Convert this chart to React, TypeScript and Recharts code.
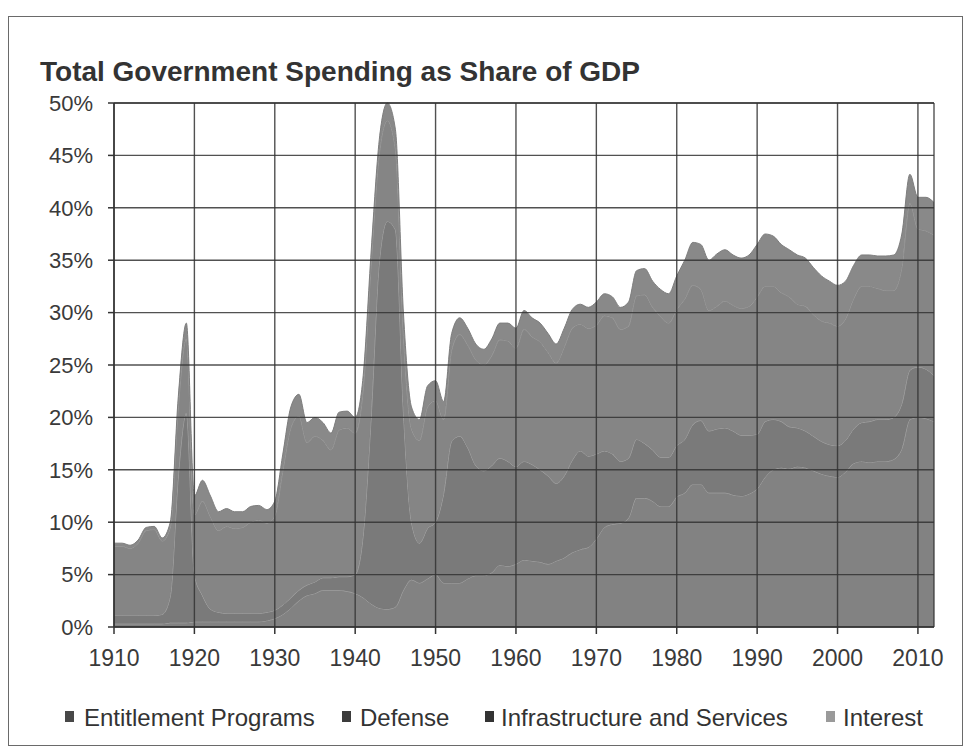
import React from "react";
import { AreaChart, Area, XAxis, YAxis, CartesianGrid } from "recharts";

const years: number[] = [
  1910, 1911, 1912, 1913, 1914, 1915, 1916, 1917, 1918, 1919,
  1920, 1921, 1922, 1923, 1924, 1925, 1926, 1927, 1928, 1929,
  1930, 1931, 1932, 1933, 1934, 1935, 1936, 1937, 1938, 1939,
  1940, 1941, 1942, 1943, 1944, 1945, 1946, 1947, 1948, 1949,
  1950, 1951, 1952, 1953, 1954, 1955, 1956, 1957, 1958, 1959,
  1960, 1961, 1962, 1963, 1964, 1965, 1966, 1967, 1968, 1969,
  1970, 1971, 1972, 1973, 1974, 1975, 1976, 1977, 1978, 1979,
  1980, 1981, 1982, 1983, 1984, 1985, 1986, 1987, 1988, 1989,
  1990, 1991, 1992, 1993, 1994, 1995, 1996, 1997, 1998, 1999,
  2000, 2001, 2002, 2003, 2004, 2005, 2006, 2007, 2008, 2009,
  2010, 2011, 2012,
];

const entitlement: number[] = [
  0.3, 0.3, 0.3, 0.3, 0.3, 0.3, 0.3, 0.4, 0.4, 0.4,
  0.5, 0.5, 0.5, 0.5, 0.5, 0.5, 0.5, 0.5, 0.5, 0.6,
  0.8, 1.2, 1.8, 2.5, 3.0, 3.2, 3.5, 3.5, 3.5, 3.4,
  3.2, 2.8, 2.2, 1.8, 1.7, 1.9, 3.5, 4.5, 4.2, 4.6,
  5.0, 4.2, 4.2, 4.2, 4.6, 4.9, 4.9, 5.2, 5.9, 5.8,
  6.0, 6.4, 6.3, 6.2, 6.0, 6.3, 6.6, 7.1, 7.4, 7.6,
  8.4, 9.5, 9.8, 9.9, 10.4, 12.3, 12.3, 12.0, 11.5, 11.5,
  12.4, 12.8, 13.6, 13.6, 12.8, 12.8, 12.8, 12.6, 12.5, 12.7,
  13.2, 14.3, 15.0, 15.2, 15.1, 15.3, 15.2, 14.9, 14.6, 14.4,
  14.3, 14.8, 15.6, 15.8, 15.7, 15.8, 15.8, 16.0, 17.0, 19.8,
  20.0, 19.9, 19.6,
];

const defense: number[] = [
  0.8, 0.8, 0.8, 0.8, 0.8, 0.8, 0.9, 2.5, 14.0, 20.0,
  4.5, 2.5, 1.2, 0.9, 0.8, 0.8, 0.8, 0.8, 0.8, 0.8,
  0.8, 0.9, 1.0, 1.0, 1.0, 1.1, 1.2, 1.2, 1.3, 1.4,
  1.8, 6.0, 18.0, 33.0, 37.0, 36.0, 17.0, 5.5, 3.8, 4.8,
  5.0, 8.5, 13.5, 14.0, 12.5, 10.5, 10.0, 10.2, 10.2, 10.0,
  9.3, 9.4, 9.2, 8.8, 8.4, 7.4, 7.8, 8.8, 9.4, 8.7,
  8.1, 7.3, 6.7, 5.9, 5.7, 5.6, 5.2, 4.9, 4.7, 4.7,
  4.9, 5.1, 5.7, 6.1, 5.9, 6.1, 6.2, 6.1, 5.8, 5.6,
  5.2, 5.3, 4.8, 4.4, 4.0, 3.7, 3.5, 3.3, 3.1, 3.0,
  3.0, 3.0, 3.3, 3.7, 3.9, 4.0, 4.0, 4.0, 4.3, 4.7,
  4.8, 4.7, 4.4,
];

const infrastructure: number[] = [
  6.6, 6.6, 6.4, 6.9, 8.1, 8.2, 7.0, 6.6, 6.6, 7.1,
  5.7, 9.0, 8.8, 7.8, 8.3, 8.1, 8.2, 8.7, 8.9, 8.5,
  9.0, 12.8, 16.2, 16.6, 13.6, 13.9, 13.1, 12.2, 14.0, 14.2,
  13.5, 13.9, 14.6, 10.3, 9.6, 7.7, 7.3, 8.9, 9.8, 11.6,
  11.6, 7.1, 8.7, 9.7, 9.8, 10.1, 10.1, 10.5, 11.3, 11.5,
  11.3, 12.6, 12.2, 12.2, 11.8, 11.5, 12.3, 12.6, 12.1, 12.2,
  12.3, 12.9, 13.0, 12.6, 12.6, 13.7, 14.2, 13.6, 13.4, 12.8,
  13.0, 13.4, 13.3, 12.5, 11.5, 11.7, 12.1, 12.0, 12.1, 12.3,
  13.1, 12.9, 12.7, 12.3, 12.4, 11.8, 11.9, 11.6, 11.5, 11.6,
  11.4, 11.6, 12.4, 13.0, 12.9, 12.5, 12.3, 12.1, 13.0, 15.9,
  13.2, 13.2, 13.4,
];

const interest: number[] = [
  0.3, 0.3, 0.3, 0.3, 0.3, 0.3, 0.3, 0.5, 1.0, 1.5,
  1.8, 2.0, 2.0, 1.8, 1.7, 1.6, 1.5, 1.5, 1.4, 1.3,
  1.4, 1.6, 2.0, 2.1, 1.9, 1.8, 1.7, 1.6, 1.7, 1.6,
  1.5, 1.3, 1.2, 1.4, 1.7, 1.9, 2.2, 2.1, 2.0, 2.0,
  1.9, 1.7, 1.6, 1.6, 1.6, 1.5, 1.5, 1.6, 1.6, 1.7,
  1.9, 1.8, 1.8, 1.8, 1.8, 1.8, 1.8, 1.8, 1.9, 2.0,
  2.2, 2.1, 2.0, 2.1, 2.3, 2.4, 2.5, 2.5, 2.6, 2.8,
  3.2, 3.7, 4.1, 4.3, 4.8, 5.0, 4.9, 4.8, 4.8, 4.9,
  5.0, 5.0, 4.8, 4.6, 4.5, 4.7, 4.6, 4.5, 4.3, 4.0,
  3.9, 3.6, 3.2, 3.0, 3.0, 3.1, 3.3, 3.4, 3.2, 2.8,
  3.0, 3.2, 3.1,
];

const yearTicks: number[] = [1910, 1920, 1930, 1940, 1950, 1960, 1970, 1980, 1990, 2000, 2010];
const pctTicks: number[] = [0, 5, 10, 15, 20, 25, 30, 35, 40, 45, 50];

const title = "Total Government Spending as Share of GDP";
const seriesNames = ["Entitlement Programs", "Defense", "Infrastructure and Services", "Interest"];

const data = years.map((y, i) => ({
  year: y,
  entitlement: entitlement[i],
  defense: defense[i],
  infrastructure: infrastructure[i],
  interest: interest[i],
}));

const FONT = '"Liberation Sans", Arial, Helvetica, sans-serif';

const fills = ["#7b7b7b", "#737373", "#7e7e7e", "#838383"];
const strokes = ["#a4a4a4", "#a4a4a4", "#9a9a9a", "#7e7e7e"];
const legendColors = ["#484848", "#3c3c3c", "#333333", "#9a9a9a"];
const legendSquareX = [65, 342, 485, 826];
const legendTextX = [84, 360, 501, 843];

export default function App() {
  return (
    <div style={{ position: "absolute", left: 0, top: 0, width: 967, height: 753, background: "#fff", fontFamily: FONT }}>
      <div
        style={{
          position: "absolute",
          left: 8,
          top: 16,
          width: 955,
          height: 730,
          border: "1.5px solid #6a6a6a",
          boxSizing: "border-box",
        }}
      />
      <div
        style={{
          position: "absolute",
          left: 40,
          top: 58,
          fontSize: 28,
          fontWeight: "bold",
          lineHeight: 1,
          color: "#333",
          whiteSpace: "nowrap",
        }}
      >
        {title}
      </div>
      <div style={{ position: "absolute", left: 0, top: 0 }}>
        <AreaChart
          width={967}
          height={753}
          data={data}
          margin={{ top: 103, right: 33, bottom: 86, left: 0 }}
        >
          <XAxis
            dataKey="year"
            type="number"
            domain={[1910, 2012]}
            ticks={yearTicks}
            allowDecimals={false}
            tickSize={7}
            tickMargin={16}
            height={40}
            stroke="#333"
            axisLine={{ stroke: "#333", strokeWidth: 1.5 }}
            tickLine={{ stroke: "#333", strokeWidth: 1.5 }}
            tick={{ fill: "#3a3a3a", fontSize: 23, fontFamily: FONT }}
            interval={0}
          />
          <YAxis
            type="number"
            domain={[0, 50]}
            ticks={pctTicks}
            tickFormatter={(v: number) => `${v}%`}
            width={114}
            tickSize={6}
            tickMargin={15}
            stroke="#333"
            axisLine={{ stroke: "#333", strokeWidth: 1.5 }}
            tickLine={{ stroke: "#333", strokeWidth: 1.5 }}
            tick={{ fill: "#3a3a3a", fontSize: 22, fontFamily: FONT }}
            interval={0}
          />
          <Area
            type="monotone"
            dataKey="entitlement"
            stackId="1"
            stroke={strokes[0]}
            strokeWidth={1}
            fill={fills[0]}
            fillOpacity={0.95}
            isAnimationActive={false}
          />
          <Area
            type="monotone"
            dataKey="defense"
            stackId="1"
            stroke={strokes[1]}
            strokeWidth={1}
            fill={fills[1]}
            fillOpacity={0.95}
            isAnimationActive={false}
          />
          <Area
            type="monotone"
            dataKey="infrastructure"
            stackId="1"
            stroke={strokes[2]}
            strokeWidth={1}
            fill={fills[2]}
            fillOpacity={0.95}
            isAnimationActive={false}
          />
          <Area
            type="monotone"
            dataKey="interest"
            stackId="1"
            stroke={strokes[3]}
            strokeWidth={1}
            fill={fills[3]}
            fillOpacity={0.95}
            isAnimationActive={false}
          />
          <CartesianGrid stroke="#333" strokeWidth={1.4} strokeOpacity={0.85} zIndex={600} />
        </AreaChart>
      </div>
      {seriesNames.map((name, i) => (
        <React.Fragment key={name}>
          <div
            style={{
              position: "absolute",
              left: legendSquareX[i],
              top: 711,
              width: 9,
              height: 11,
              background: legendColors[i],
            }}
          />
          <div
            style={{
              position: "absolute",
              left: legendTextX[i],
              top: 706,
              fontSize: 24,
              lineHeight: 1,
              color: "#333",
              whiteSpace: "nowrap",
            }}
          >
            {name}
          </div>
        </React.Fragment>
      ))}
    </div>
  );
}
